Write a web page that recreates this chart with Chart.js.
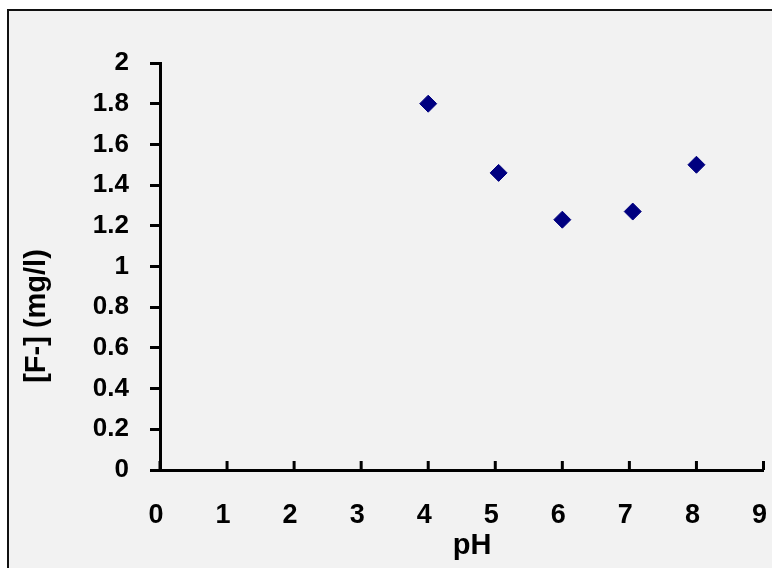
<!DOCTYPE html>
<html>
<head>
<meta charset="utf-8">
<script src="https://cdn.jsdelivr.net/npm/chart.js@4/dist/chart.umd.min.js"></script>
<style>
  html, body { margin: 0; padding: 0; background: #fff; overflow: hidden; width: 772px; height: 568px; }
  #frame { position: absolute; left: 7px; top: 9px; width: 800px; height: 600px; border: 2px solid #111; background: #f2f2f2; }
  #chart { position: absolute; left: 0; top: 0; }
</style>
</head>
<body>
<div id="frame"></div>
<canvas id="chart" width="800" height="600"></canvas>
<script>
// pH vs fluoride concentration
const phValues = [4.0, 5.05, 6.0, 7.05, 8.0];
const fluoride = [1.8, 1.46, 1.23, 1.27, 1.5];

const xTickLabels = ['0', '1', '2', '3', '4', '5', '6', '7', '8', '9'];
const yTickLabels = ['0', '0.2', '0.4', '0.6', '0.8', '1', '1.2', '1.4', '1.6', '1.8', '2'];

const xTitle = 'pH';
const yTitle = '[F-] (mg/l)';

const fontFamily = '"Liberation Sans", Arial, sans-serif';

// x ticks in the reference point up into the plot, so draw them by hand
const innerTicks = {
    id: 'innerTicks',
    afterDraw(chart) {
        const xs = chart.scales.x;
        const { ctx, chartArea } = chart;
        ctx.save();
        ctx.strokeStyle = '#000';
        ctx.lineWidth = 3;
        xs.ticks.forEach(t => {
            const px = xs.getPixelForValue(t.value);
            ctx.beginPath();
            ctx.moveTo(px, chartArea.bottom);
            ctx.lineTo(px, chartArea.bottom - 9);
            ctx.stroke();
        });
        ctx.restore();
    }
};

// axis titles sit off-centre in the original (centred on the frame, not the plot)
const axisTitles = {
    id: 'axisTitles',
    afterDraw(chart) {
        const ctx = chart.ctx;
        ctx.save();
        ctx.fillStyle = '#000';
        ctx.font = 'bold 29px ' + fontFamily;
        ctx.textAlign = 'center';
        ctx.textBaseline = 'middle';
        ctx.fillText(xTitle, 472, 546);
        ctx.translate(37, 316);
        ctx.rotate(-Math.PI / 2);
        ctx.fillText(yTitle, 0, 0);
        ctx.restore();
    }
};

const points = phValues.map((x, i) => ({ x, y: fluoride[i] }));

new Chart(document.getElementById('chart'), {
    type: 'scatter',
    data: {
        datasets: [{
            data: points,
            pointStyle: 'rectRot',
            pointRadius: 8.5,
            pointHoverRadius: 8.5,
            backgroundColor: '#000080',
            borderColor: '#000080',
            borderWidth: 1
        }]
    },
    options: {
        responsive: false,
        animation: false,
        layout: {
            autoPadding: false,
            padding: { left: 0, top: 63, right: 33, bottom: 34 }
        },
        plugins: {
            legend: { display: false },
            tooltip: { enabled: false }
        },
        scales: {
            x: {
                type: 'linear',
                min: 0,
                max: 9,
                afterFit: s => { s.height = 96; },
                grid: { display: true, drawOnChartArea: false, drawTicks: false, color: 'rgba(0,0,0,0)' },
                border: { display: true, color: '#000', width: 3 },
                ticks: {
                    stepSize: 1,
                    padding: 29,
                    labelOffset: -4,
                    color: '#000',
                    font: { family: fontFamily, size: 27, weight: 'bold' },
                    callback: (v) => xTickLabels[Math.round(v)]
                }
            },
            y: {
                type: 'linear',
                min: 0,
                max: 2,
                afterFit: s => { s.width = 160; },
                grid: { display: true, drawOnChartArea: false, drawTicks: true, tickLength: 10, color: '#000', lineWidth: 3 },
                border: { display: true, color: '#000', width: 3 },
                ticks: {
                    stepSize: 0.2,
                    padding: 21,
                    color: '#000',
                    font: { family: fontFamily, size: 26, weight: 'bold' },
                    callback: (v) => yTickLabels[Math.round(v * 5)]
                }
            }
        }
    },
    plugins: [innerTicks, axisTitles]
});
</script>
</body>
</html>
